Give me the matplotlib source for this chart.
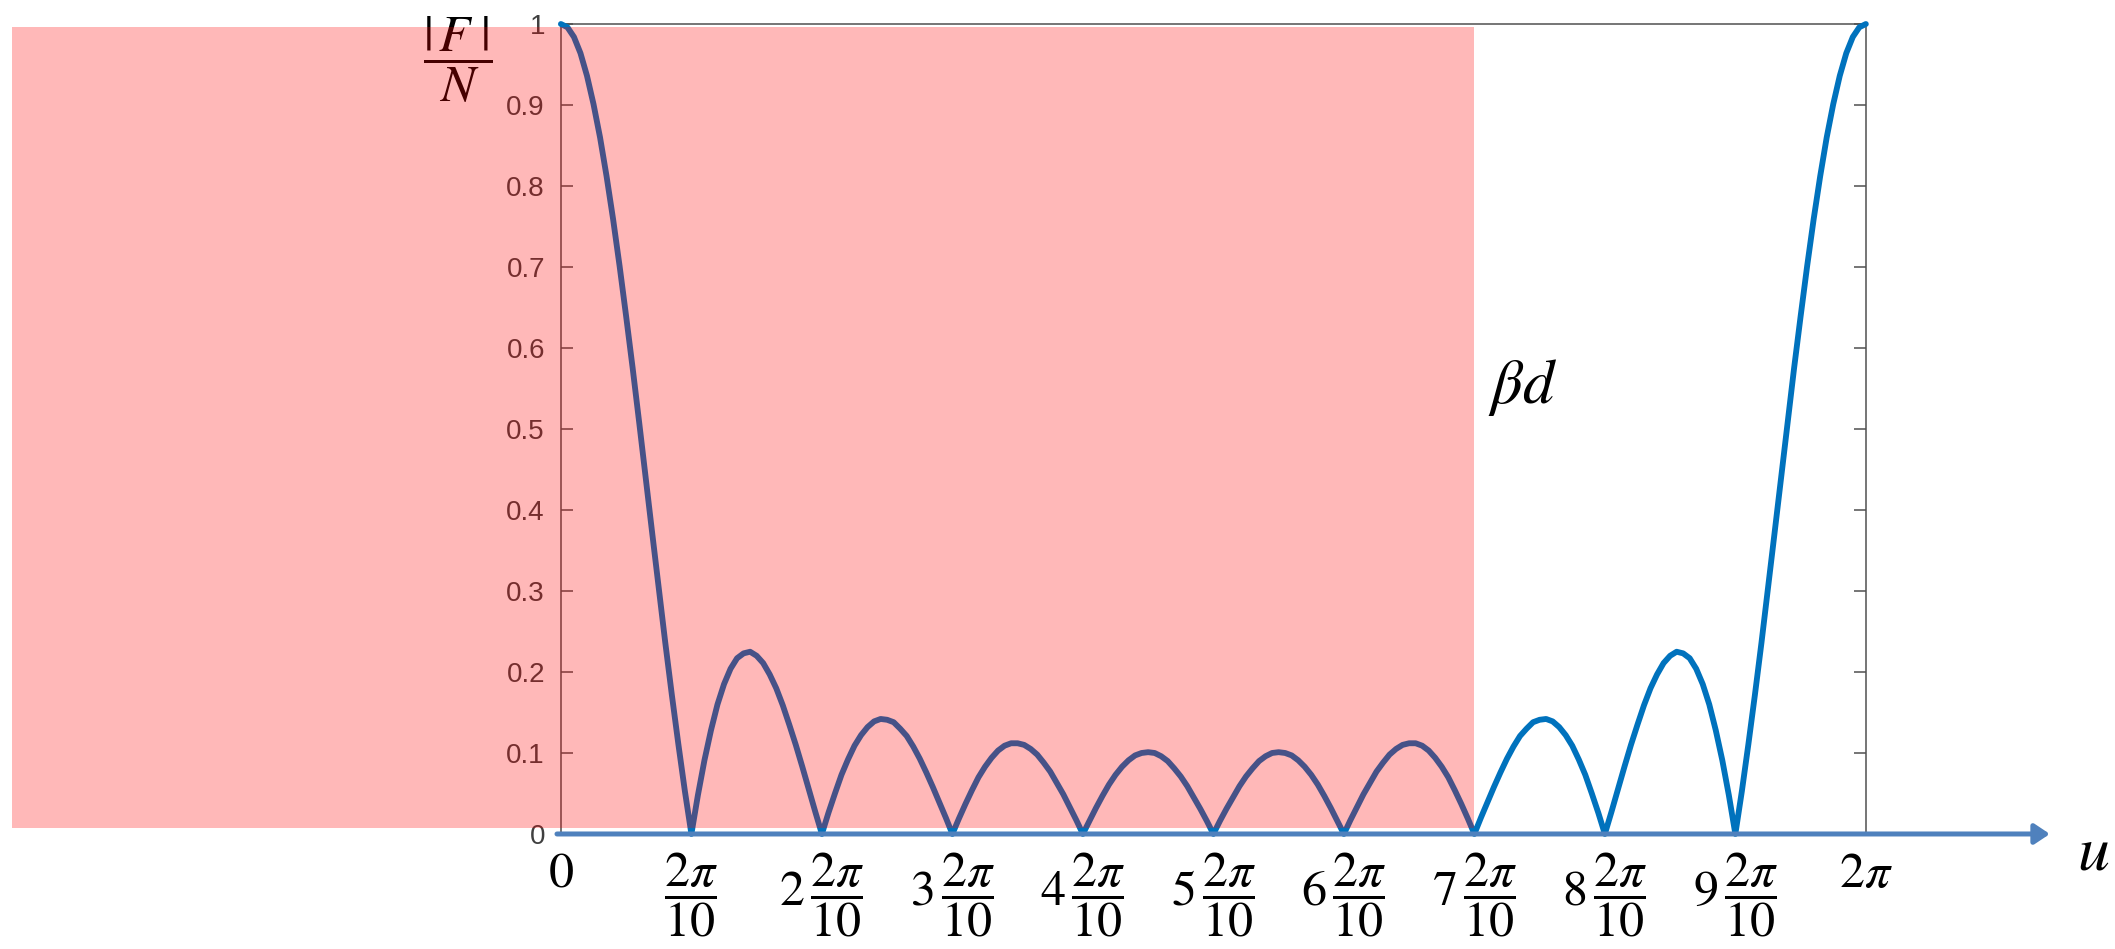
#!/usr/bin/env python

import numpy as np
import matplotlib
matplotlib.use('Agg')
import matplotlib.pyplot as plt
from matplotlib.patches import Rectangle

matplotlib.rc('mathtext', fontset='stix')
matplotlib.rc('font', family=['Liberation Sans', 'DejaVu Sans'])

# |F|/N for a 10 element uniform array, one sample every 2*pi/200 over [0, 2*pi]
AF = [1.000, 0.996, 0.984, 0.964, 0.936, 0.901, 0.860, 0.812, 0.759, 0.701,
      0.639, 0.575, 0.508, 0.439, 0.371, 0.303, 0.236, 0.172, 0.111, 0.053,
      0.000, 0.048, 0.091, 0.128, 0.160, 0.185, 0.204, 0.217, 0.223, 0.225,
      0.220, 0.211, 0.197, 0.180, 0.159, 0.135, 0.110, 0.083, 0.055, 0.027,
      0.000, 0.026, 0.050, 0.073, 0.092, 0.109, 0.122, 0.132, 0.139, 0.142,
      0.141, 0.138, 0.130, 0.121, 0.108, 0.093, 0.076, 0.058, 0.039, 0.020,
      0.000, 0.019, 0.037, 0.054, 0.070, 0.083, 0.094, 0.103, 0.109, 0.112,
      0.112, 0.110, 0.105, 0.098, 0.088, 0.077, 0.063, 0.049, 0.033, 0.017,
      0.000, 0.016, 0.032, 0.047, 0.061, 0.073, 0.083, 0.091, 0.097, 0.100,
      0.101, 0.100, 0.096, 0.090, 0.081, 0.071, 0.059, 0.045, 0.031, 0.016,
      0.000,
      0.016, 0.031, 0.045, 0.059, 0.071, 0.081, 0.090, 0.096, 0.100, 0.101,
      0.100, 0.097, 0.091, 0.083, 0.073, 0.061, 0.047, 0.032, 0.016, 0.000,
      0.017, 0.033, 0.049, 0.063, 0.077, 0.088, 0.098, 0.105, 0.110, 0.112,
      0.112, 0.109, 0.103, 0.094, 0.083, 0.070, 0.054, 0.037, 0.019, 0.000,
      0.020, 0.039, 0.058, 0.076, 0.093, 0.108, 0.121, 0.130, 0.138, 0.141,
      0.142, 0.139, 0.132, 0.122, 0.109, 0.092, 0.073, 0.050, 0.026, 0.000,
      0.027, 0.055, 0.083, 0.110, 0.135, 0.159, 0.180, 0.197, 0.211, 0.220,
      0.225, 0.223, 0.217, 0.204, 0.185, 0.160, 0.128, 0.091, 0.048, 0.000,
      0.053, 0.111, 0.172, 0.236, 0.303, 0.371, 0.439, 0.508, 0.575, 0.639,
      0.701, 0.759, 0.812, 0.860, 0.901, 0.936, 0.964, 0.984, 0.996, 1.000]

# x ticks in multiples of 2*pi/10
X_TICKS = [0, 1, 2, 3, 4, 5, 6, 7, 8, 9, 10]
X_LABELS = [r'$0$', r'$\dfrac{2\pi}{10}$', r'$2\,\dfrac{2\pi}{10}$',
            r'$3\,\dfrac{2\pi}{10}$', r'$4\,\dfrac{2\pi}{10}$',
            r'$5\,\dfrac{2\pi}{10}$', r'$6\,\dfrac{2\pi}{10}$',
            r'$7\,\dfrac{2\pi}{10}$', r'$8\,\dfrac{2\pi}{10}$',
            r'$9\,\dfrac{2\pi}{10}$', r'$2\pi$']
Y_TICKS = [0, 0.1, 0.2, 0.3, 0.4, 0.5, 0.6, 0.7, 0.8, 0.9, 1]
Y_LABELS = ['0', '0.1', '0.2', '0.3', '0.4', '0.5', '0.6', '0.7', '0.8', '0.9', '1']

u = np.linspace(0, 2 * np.pi, len(AF))

fig = plt.figure(figsize=(21.15, 9.49), dpi=100)
ax = fig.add_axes([0.2652, 0.1212, 0.6170, 0.8535])

ax.plot(u, AF, color='#0072BD', lw=4.2, solid_joinstyle='round',
        solid_capstyle='round', clip_on=False, zorder=3)
ax.set_xlim(0, 2 * np.pi)
ax.set_ylim(0, 1)

ax.set_yticks(Y_TICKS, Y_LABELS)
ax.set_xticks(np.array(X_TICKS) * 2 * np.pi / 10, X_LABELS)
ax.tick_params(axis='y', direction='in', length=8.6, width=1.1, color='#505050',
               labelcolor='#404040', labelsize=20, pad=11.5, right=True)
ax.tick_params(axis='x', length=0, labelsize=36, pad=12)
for side in ['left', 'right', 'top']:
    ax.spines[side].set(color='#505050', lw=1.1)
ax.spines['bottom'].set_visible(False)

# u axis drawn as an arrow running past the plot box
ax.annotate('', xy=(1.141, 0), xytext=(-0.003, 0), xycoords='axes fraction',
            arrowprops=dict(arrowstyle='-|>,head_length=0.45,head_width=0.3',
                            color='#4F81BD', lw=3.6, shrinkA=0, shrinkB=0,
                            mutation_scale=20),
            annotation_clip=False, zorder=4)

fig.text(0.9975, 0.1022, r'$u$', fontsize=46, ha='right', va='center')
fig.text(0.7201, 0.5922, r'$\beta d$', fontsize=45, ha='center', va='center')
fig.text(0.2165, 0.9368, r'$\dfrac{\left|\,F\;\right|}{N}$', fontsize=37,
         ha='center', va='center')

# translucent red band over the left part
fig.add_artist(Rectangle((0.00567, 0.1275), 0.6913, 0.8440,
                         transform=fig.transFigure, facecolor='red', alpha=0.28,
                         lw=0, zorder=10))

fig.savefig('out.png', dpi=100)
plt.close()
